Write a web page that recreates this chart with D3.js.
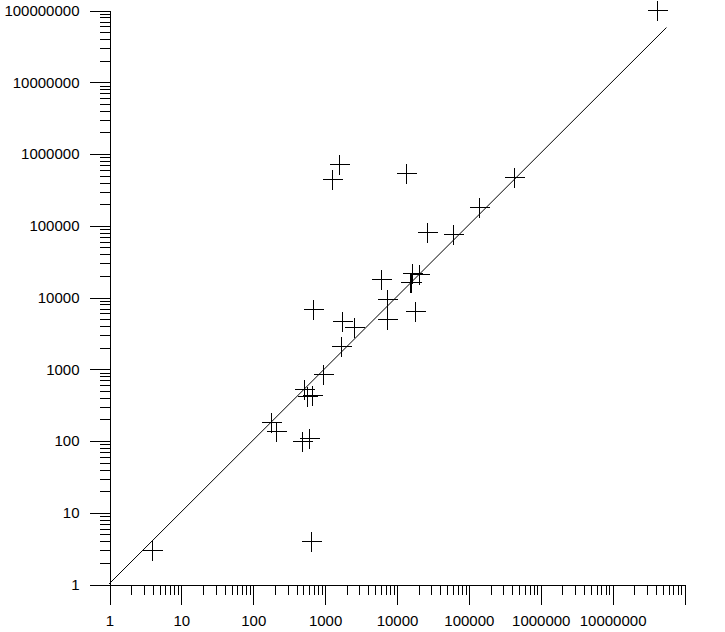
<!DOCTYPE html>
<html>
<head>
<meta charset="utf-8">
<script src="https://cdn.jsdelivr.net/npm/d3@7"></script>
<style>
  body { margin: 0; background: #fff; }
  svg { display: block; }
</style>
</head>
<body>
<div id="chart"></div>
<script>
const xVals = [4, 177, 212, 490, 610, 650, 515, 573, 666, 957, 1700, 1760, 2560, 700,
               6100, 7400, 7400, 18200, 16500, 20700, 15850, 15300, 26700, 61500,
               141000, 434000, 1280, 1600, 13600, 42200000]
const yVals = [3, 179, 136, 98, 107, 4, 517, 417, 430, 850, 2070, 4700, 3860, 6700,
               17700, 9300, 5000, 6400, 21600, 20700, 16300, 16000, 80000, 75000,
               178000, 466000, 436000, 710000, 530000, 99000000]

const majorTicks = [1, 10, 100, 1000, 10000, 100000, 1000000, 10000000, 100000000]
const xLabelMax = 10000000
const lineRange = [1, 57000000]

const width = 725, height = 632
const x = d3.scaleLog().domain([1, 1e8]).range([109, 684])
const y = d3.scaleLog().domain([1, 1e8]).range([584, 10])

const minorTicks = []
majorTicks.slice(0, -1).forEach(function (m) {
    for (let k = 2; k <= 9; k++) minorTicks.push(m * k)
})

const svg = d3.select("#chart").append("svg")
    .attr("width", width)
    .attr("height", height)

const fmt = function (d) { return String(d) }
const fmtX = function (d) { return d > xLabelMax ? "" : String(d) }

function styleAxis(g) {
    g.attr("font-family", "'Liberation Sans', Arial, sans-serif")
        .attr("font-size", 15)
        .attr("shape-rendering", "crispEdges")
    g.selectAll("line").attr("stroke", "#000")
    g.selectAll("path").attr("stroke", "#000")
    g.selectAll("text").attr("fill", "#000")
}

// x axis: minor then major ticks
svg.append("g")
    .attr("transform", "translate(0.5," + (y(1) + 0.5) + ")")
    .call(d3.axisBottom(x).tickValues(minorTicks).tickSize(10).tickSizeOuter(0).tickFormat(""))
    .call(styleAxis)
svg.append("g")
    .attr("transform", "translate(0.5," + (y(1) + 0.5) + ")")
    .call(d3.axisBottom(x).tickValues(majorTicks).tickSize(20).tickSizeOuter(0).tickPadding(11).tickFormat(fmtX))
    .call(styleAxis)

// y axis
svg.append("g")
    .attr("transform", "translate(" + (x(1) + 0.5) + ",0.5)")
    .call(d3.axisLeft(y).tickValues(minorTicks).tickSize(10).tickSizeOuter(0).tickFormat(""))
    .call(styleAxis)
svg.append("g")
    .attr("transform", "translate(" + (x(1) + 0.5) + ",0.5)")
    .call(d3.axisLeft(y).tickValues(majorTicks).tickSize(20).tickSizeOuter(0).tickPadding(10).tickFormat(fmt))
    .call(styleAxis)

// y = x reference line
svg.append("line")
    .attr("x1", x(lineRange[0]))
    .attr("y1", y(lineRange[0]))
    .attr("x2", x(lineRange[1]))
    .attr("y2", y(lineRange[1]))
    .attr("stroke", "#000")
    .attr("stroke-width", 1)

// plus markers
const pts = xVals.map(function (v, i) { return { x: v, y: yVals[i] } })
svg.append("g")
    .attr("shape-rendering", "crispEdges")
    .selectAll("path")
    .data(pts)
    .enter()
    .append("path")
    .attr("transform", function (d) {
        return "translate(" + (Math.round(x(d.x)) + 0.5) + "," + (Math.round(y(d.y)) + 0.5) + ")"
    })
    .attr("d", "M-10,0H10M0,-10V10")
    .attr("stroke", "#000")
    .attr("stroke-width", 1)
    .attr("fill", "none")
</script>
</body>
</html>
